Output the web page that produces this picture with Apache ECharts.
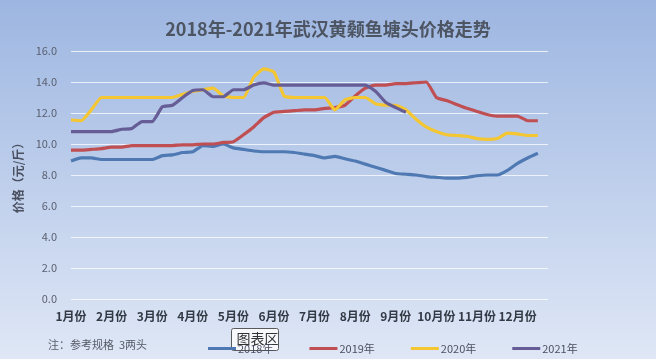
<!DOCTYPE html>
<html>
<head>
<meta charset="utf-8">
<script src="https://cdn.jsdelivr.net/npm/echarts@6/dist/echarts.min.js"></script>
<style>
html,body{margin:0;padding:0;}
#c{width:656px;height:359px;}
</style>
</head>
<body>
<div id="c"></div>
<script>
var titleText = '2018年-2021年武汉黄颡鱼塘头价格走势';
var monthLabels = ['1月份','2月份','3月份','4月份','5月份','6月份','7月份','8月份','9月份','10月份','11月份','12月份'];
var yTicks = [0,2,4,6,8,10,12,14,16];
var seriesNames = ['2018年','2019年','2020年','2021年'];
var v2018 = [8.9,9.1,9.1,9.0,9.0,9.0,9.0,9.0,9.0,9.25,9.3,9.45,9.5,9.9,9.85,10.0,9.75,9.65,9.55,9.5,9.5,9.5,9.45,9.35,9.25,9.1,9.2,9.05,8.9,8.7,8.5,8.3,8.1,8.05,8.0,7.9,7.85,7.8,7.8,7.85,7.95,8.0,8.0,8.3,8.75,9.1,9.4];
var v2019 = [9.6,9.6,9.65,9.7,9.8,9.8,9.9,9.9,9.9,9.9,9.9,9.95,9.95,10.0,10.0,10.1,10.15,10.6,11.1,11.7,12.05,12.1,12.15,12.2,12.2,12.3,12.35,12.5,13.1,13.6,13.8,13.8,13.9,13.9,13.95,14.0,13.0,12.8,12.55,12.3,12.1,11.9,11.8,11.8,11.8,11.5,11.5];
var v2020 = [11.55,11.5,12.2,13.0,13.0,13.0,13.0,13.0,13.0,13.0,13.0,13.2,13.4,13.5,13.6,13.1,13.0,13.0,14.3,14.85,14.65,13.1,13.0,13.0,13.0,13.0,12.2,12.85,13.0,13.0,12.6,12.5,12.5,12.2,11.6,11.1,10.8,10.6,10.55,10.5,10.35,10.3,10.35,10.7,10.65,10.55,10.55];
var v2021 = [10.8,10.8,10.8,10.8,10.8,10.95,11.0,11.45,11.45,12.4,12.5,13.0,13.45,13.5,13.05,13.05,13.5,13.5,13.8,13.95,13.8,13.8,13.8,13.8,13.8,13.8,13.8,13.8,13.8,13.8,13.4,12.7,12.35,12.05];
var noteText = '注：参考规格  3两头';
var tipText = '图表区';

var weeksPerMonth = 4;
var categories = [];
monthLabels.forEach(function(m){
  for (var w = 0; w < weeksPerMonth; w++) categories.push(w === 0 ? m : '');
});

var colors = ['#4f79b2', '#bf4f52', '#f3c632', '#675d96'];
var allData = [v2018, v2019, v2020, v2021];

var chart = echarts.init(document.getElementById('c'));
chart.setOption({
  backgroundColor: {
    type: 'linear', x: 0, y: 0, x2: 0, y2: 1,
    colorStops: [{offset: 0, color: '#9db6e1'}, {offset: 1, color: '#dfe7f6'}]
  },
  animation: false,
  title: {
    text: titleText,
    left: 'center',
    top: 15,
    textStyle: {fontSize: 18, fontWeight: 'bold', color: '#4d5563', fontFamily: 'Noto Sans CJK SC'}
  },
  grid: {left: 71, right: 108, top: 51, bottom: 60},
  xAxis: {
    type: 'category',
    data: categories,
    boundaryGap: false,
    axisLine: {show: false},
    axisTick: {show: false},
    splitLine: {show: false},
    axisLabel: {
      interval: function(i, v){ return v !== ''; },
      margin: 11,
      fontSize: 12,
      fontWeight: 'bold',
      color: '#333a45',
      fontFamily: 'Noto Sans CJK SC'
    }
  },
  yAxis: {
    type: 'value',
    min: yTicks[0],
    max: yTicks[yTicks.length - 1],
    interval: yTicks[1] - yTicks[0],
    name: '价格（元/斤）',
    nameLocation: 'middle',
    nameGap: 44,
    nameTextStyle: {fontSize: 12, fontWeight: 'bold', color: '#4a5060', fontFamily: 'Noto Sans CJK SC'},
    axisLine: {show: false},
    axisTick: {show: false},
    axisLabel: {
      formatter: function(v){ return v.toFixed(1); },
      fontSize: 11,
      color: '#5a6070',
      margin: 14,
      fontFamily: 'Noto Sans CJK SC'
    },
    splitLine: {lineStyle: {color: 'rgba(255,255,255,0.75)', width: 1}}
  },
  legend: {
    data: seriesNames,
    left: 203,
    top: 338,
    icon: 'rect',
    itemWidth: 28,
    itemHeight: 3,
    itemGap: 36,
    textStyle: {fontSize: 11, color: '#4a5060', fontFamily: 'Noto Sans CJK SC', padding: [0,0,0,-3]}
  },
  graphic: [
    {type: 'text', left: 48, top: 339, style: {text: noteText, fontSize: 11, fill: '#555b66', fontFamily: 'Noto Sans CJK SC'}},
    {type: 'group', left: 231, top: 328, z: 100, children: [
      {type: 'rect', shape: {x: 0, y: 0, width: 47, height: 22, r: 2}, style: {fill: '#f7f9fc', stroke: '#5a5a5a', lineWidth: 1}},
      {type: 'text', left: 5, top: 3, style: {text: tipText, fontSize: 14, fill: '#333', fontFamily: 'Noto Sans CJK SC'}}
    ]}
  ],
  series: seriesNames.map(function(n, i){
    return {
      name: n,
      type: 'line',
      data: allData[i],
      showSymbol: false,
      smooth: 0.15,
      lineStyle: {width: 3.2, color: colors[i]},
      itemStyle: {color: colors[i]}
    };
  })
});
</script>
</body>
</html>
